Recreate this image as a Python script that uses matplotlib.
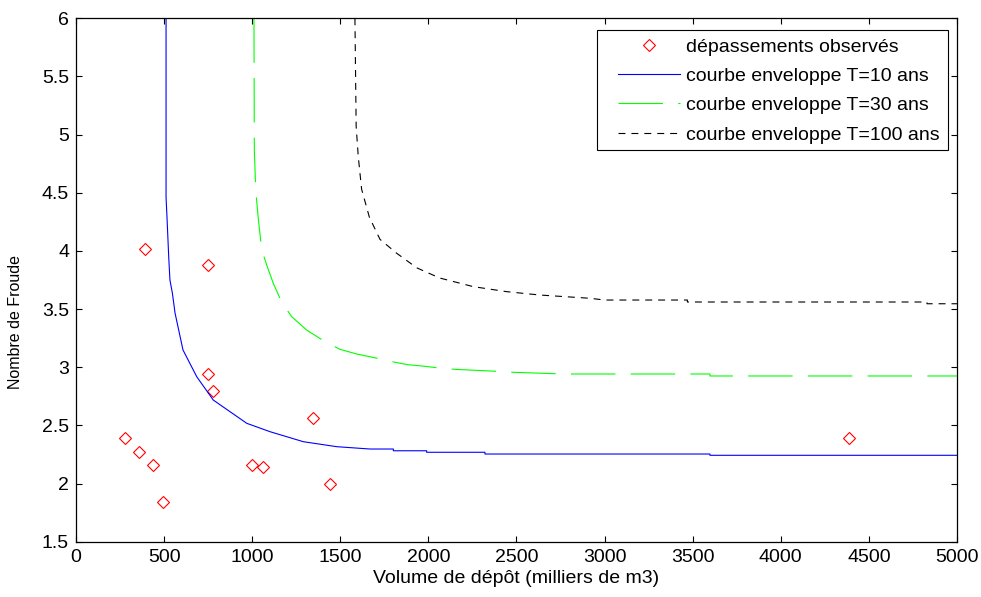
import matplotlib
matplotlib.use("Agg")
import matplotlib.pyplot as plt
from matplotlib.patches import Rectangle

plt.rcParams['font.family'] = ['Liberation Sans', 'DejaVu Sans']
plt.rcParams['lines.scale_dashes'] = False

# observed exceedances
obs_volume = [280, 360, 435, 495, 390, 750, 750, 780, 1000, 1060, 1345, 1440, 4385]
obs_froude = [2.39, 2.27, 2.16, 1.84, 4.02, 3.88, 2.94, 2.80, 2.16, 2.14, 2.56, 2.00, 2.39]

# envelope curve T=10 ans
t10_volume = [511, 511, 516, 526, 533, 547, 562, 607, 685, 779, 874, 969, 1101,
              1290, 1480, 1669, 1801, 1801, 1990, 1990, 2321, 2321, 3598, 3598, 5000]
t10_froude = [6.0, 4.46, 4.30, 3.95, 3.75, 3.636, 3.466, 3.149, 2.919, 2.718, 2.618, 2.518, 2.446,
              2.36, 2.317, 2.297, 2.297, 2.282, 2.282, 2.269, 2.269, 2.254, 2.254, 2.243, 2.243]

# envelope curve T=30 ans
t30_volume = [1010, 1012, 1020, 1035, 1054, 1082, 1120, 1167, 1224, 1309, 1413, 1498, 1593,
              1700, 1810, 1884, 1962, 2047, 2151, 2350, 2473, 2775, 3598, 3598, 5000]
t30_froude = [6.0, 4.87, 4.52, 4.27, 4.01, 3.88, 3.72, 3.56, 3.435, 3.32, 3.22, 3.154, 3.114,
              3.08, 3.043, 3.022, 3.011, 2.996, 2.982, 2.968, 2.957, 2.942, 2.942, 2.925, 2.925]

# envelope curve T=100 ans
t100_volume = [1583, 1590, 1602, 1621, 1665, 1725, 1820, 1934, 2030, 2070, 2255, 2444, 2633,
               2917, 3000, 3470, 3470, 4830, 4830, 5000]
t100_froude = [6.0, 5.07, 4.81, 4.53, 4.29, 4.10, 3.98, 3.855, 3.79, 3.765, 3.693, 3.65, 3.621,
               3.593, 3.578, 3.578, 3.561, 3.561, 3.546, 3.546]

fig = plt.figure(figsize=(9.81, 5.97), dpi=100)
ax = fig.add_axes([0.0775, 0.0926, 0.898, 0.8767])

ax.plot(obs_volume, obs_froude, linestyle='none', marker='D', markersize=6.6,
        markerfacecolor='none', markeredgecolor='#ff0000', markeredgewidth=0.8,
        label='dépassements observés')
ax.plot(t10_volume, t10_froude, color='#0000ff', linewidth=0.8,
        label='courbe enveloppe T=10 ans')
ax.plot(t30_volume, t30_froude, color='#00ff00', linewidth=0.8, dashes=(32, 11),
        label='courbe enveloppe T=30 ans')
ax.plot(t100_volume, t100_froude, color='black', linewidth=0.8, dashes=(5, 4.3),
        label='courbe enveloppe T=100 ans')

ax.set_xlim(0, 5000)
ax.set_ylim(1.5, 6)
ax.set_xticks(range(0, 5001, 500))
ax.set_yticks([1.5, 2, 2.5, 3, 3.5, 4, 4.5, 5, 5.5, 6])
ax.set_yticklabels(['1.5', '2', '2.5', '3', '3.5', '4', '4.5', '5', '5.5', '6'])
ax.tick_params(direction='in', top=True, right=True, length=4.5, width=0.8,
               labelsize=14, pad=5)
for s in ax.spines.values():
    s.set_linewidth(0.9)

ax.set_xlabel('Volume de dépôt (milliers de m3)', fontsize=14, labelpad=3)
ax.set_ylabel('Nombre de Froude', fontsize=11.5)
ax.yaxis.set_label_coords(-0.060, 0.42)

# MATLAB style legend box: wider left padding than matplotlib gives
ax.add_patch(Rectangle((0.5914, 0.7484), 0.3984, 0.2292, transform=ax.transAxes,
                       facecolor='white', edgecolor='black', linewidth=0.8, zorder=4.9))
leg = ax.legend(loc='upper left', bbox_to_anchor=(0.6152, 0.9623), fontsize=14,
                frameon=False, handlelength=3.2, handletextpad=0.3,
                labelspacing=0.6, borderpad=0, borderaxespad=0, numpoints=1)
leg.set_zorder(5)

fig.savefig('out.png', dpi=100)
